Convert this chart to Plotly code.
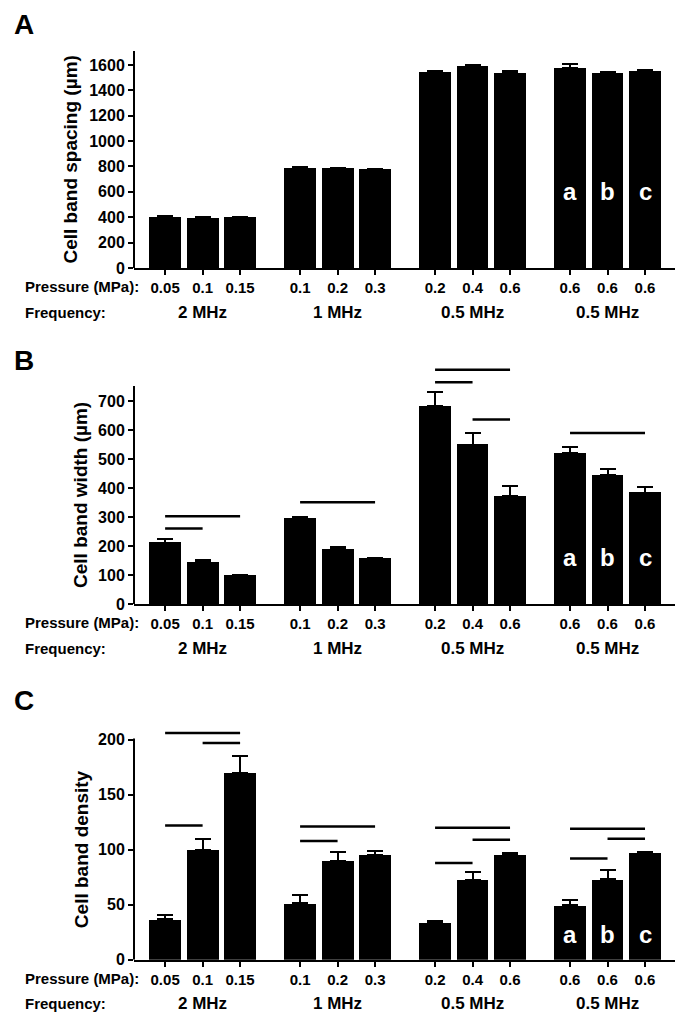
import plotly.graph_objects as go

# --- data ---
pressure_labels = ["0.05", "0.1", "0.15", "0.1", "0.2", "0.3",
                   "0.2", "0.4", "0.6", "0.6", "0.6", "0.6"]
frequency_labels = ["2 MHz", "1 MHz", "0.5 MHz", "0.5 MHz"]
letters = ["a", "b", "c"]

spacing_mean = [405, 395, 398, 790, 787, 777, 1548, 1592, 1535, 1578, 1535, 1555]
spacing_err = [4, 3, 3, 4, 3, 3, 4, 6, 15, 30, 8, 8]

width_mean = [212, 144, 98, 294, 189, 157, 682, 549, 373, 520, 445, 384]
width_err = [12, 6, 2, 7, 8, 2, 48, 40, 35, 22, 22, 19]
width_sig = [(0, 2, 303), (0, 1, 260), (3, 5, 351), (6, 8, 808),
             (6, 7, 765), (7, 8, 636), (9, 11, 590)]

density_mean = [37, 100, 170, 51.5, 90, 95.5, 33.6, 72.7, 95.8, 49.4, 73.3, 97.3]
density_err = [3.6, 9.5, 15, 7.3, 7.8, 3.3, 1.2, 6.7, 1.2, 4.8, 7.9, 0.6]
density_sig = [(0, 2, 206), (1, 2, 197), (0, 1, 122), (3, 5, 121), (3, 4, 108),
               (6, 8, 120), (7, 8, 109), (6, 7, 88), (9, 11, 119), (10, 11, 110),
               (9, 10, 92)]

# --- layout helpers ---
W, H = 683, 1016
FONT = "Liberation Sans, Arial, sans-serif"


def py(p):
    return 1 - p / H


def px(p):
    return p / W


# bar positions: 3 bars per group, gap between groups
pos = [g * 3.6 + i for g in range(4) for i in range(3)]
group_centers = [sum(pos[g * 3:g * 3 + 3]) / 3 for g in range(4)]

panels = [
    dict(mean=spacing_mean, err=spacing_err, sig=[], title="Cell band spacing (µm)",
         ticks=list(range(0, 1601, 200)), rmax=1710, atop=1710, y0=260, y1=43,
         lett=600, lab="A", lab_y=17, press_y=279, freq_y=304, title_x=62),
    dict(mean=width_mean, err=width_err, sig=width_sig, title="Cell band width (µm)",
         ticks=list(range(0, 701, 100)), rmax=830, atop=752, y0=596, y1=355.3,
         lett=160, lab="B", lab_y=352, press_y=614, freq_y=640, title_x=73),
    dict(mean=density_mean, err=density_err, sig=density_sig, title="Cell band density",
         ticks=[0, 50, 100, 150, 200], rmax=212, atop=201, y0=951.7, y1=718.5,
         lett=22.5, lab="C", lab_y=692, press_y=970, freq_y=995, title_x=73),
]

fig = go.Figure()
shapes = []
annotations = []
xrange = [-0.83, 13.76]

for k, p in enumerate(panels):
    n = "" if k == 0 else str(k + 1)
    xa, ya = "x" + n, "y" + n
    fig.add_trace(go.Bar(
        x=pos, y=p["mean"], width=0.85, xaxis=xa, yaxis=ya,
        marker=dict(color="black", line=dict(width=0)),
        error_y=dict(type="data", array=p["err"], arrayminus=[0] * len(p["err"]),
                     symmetric=False, color="black", thickness=2, width=8),
        showlegend=False, hoverinfo="skip",
    ))

    axis_x = dict(domain=[px(126), px(673)], range=xrange, showline=True, linewidth=2,
                  linecolor="black", ticks="outside", ticklen=5, tickwidth=2,
                  tickcolor="black", tickvals=pos, ticktext=pressure_labels,
                  tickfont=dict(family=FONT, size=15, color="black", weight="bold"),
                  showgrid=False, zeroline=False, fixedrange=True, anchor=ya)
    axis_y = dict(domain=[py(p["y0"]), py(p["y1"])], range=[0, p["rmax"]], showline=False,
                  ticks="outside", ticklen=5, tickwidth=2, tickcolor="black",
                  tickvals=p["ticks"],
                  tickfont=dict(family=FONT, size=16, color="black", weight="bold"),
                  showgrid=False, zeroline=False, fixedrange=True, anchor=xa)
    fig.layout["xaxis" + n] = axis_x
    fig.layout["yaxis" + n] = axis_y

    # visible y axis line (stops below the significance bars)
    shapes.append(dict(type="line", xref=xa + " domain", yref=ya, x0=0, x1=0,
                       y0=0, y1=p["atop"], line=dict(color="black", width=2)))

    # significance bars
    for i, j, yv in p["sig"]:
        shapes.append(dict(type="line", xref=xa, yref=ya, x0=pos[i], x1=pos[j],
                           y0=yv, y1=yv, line=dict(color="black", width=2.5)))

    # a / b / c letters in the last group
    for t, b in zip(letters, pos[9:]):
        annotations.append(dict(x=b, y=p["lett"], xref=xa, yref=ya, text=t,
                                showarrow=False,
                                font=dict(family=FONT, size=24, color="white", weight="bold")))

    # y axis title, centred on the visible axis line
    top_px = p["y0"] - p["atop"] * (p["y0"] - p["y1"]) / p["rmax"]
    annotations.append(dict(x=px(p["title_x"]), y=py((p["y0"] + top_px) / 2),
                            xref="paper", yref="paper", text=p["title"], textangle=-90,
                            showarrow=False, xanchor="center", yanchor="middle",
                            font=dict(family=FONT, size=19, color="black", weight="bold")))

    # row labels
    annotations.append(dict(x=px(15), y=py(p["press_y"]), xref="paper", yref="paper",
                            text="Pressure (MPa):", showarrow=False, xanchor="left",
                            yanchor="middle",
                            font=dict(family=FONT, size=15, color="black", weight="bold")))
    annotations.append(dict(x=px(15), y=py(p["freq_y"]), xref="paper", yref="paper",
                            text="Frequency:", showarrow=False, xanchor="left",
                            yanchor="middle",
                            font=dict(family=FONT, size=15, color="black", weight="bold")))
    for fl, gc in zip(frequency_labels, group_centers):
        annotations.append(dict(x=gc, y=py(p["freq_y"]), xref=xa, yref="paper",
                                text=fl, showarrow=False, yanchor="middle",
                                font=dict(family=FONT, size=17, color="black", weight="bold")))

    # panel letter
    annotations.append(dict(x=px(16), y=py(p["lab_y"]), xref="paper", yref="paper",
                            text=p["lab"], showarrow=False, xanchor="center",
                            yanchor="middle",
                            font=dict(family=FONT, size=28, color="black", weight="bold")))

fig.update_layout(
    width=W, height=H,
    margin=dict(l=0, r=0, t=0, b=0, autoexpand=False),
    paper_bgcolor="white", plot_bgcolor="white",
    shapes=shapes, annotations=annotations,
    bargap=0,
)

fig.write_html("out.html")
